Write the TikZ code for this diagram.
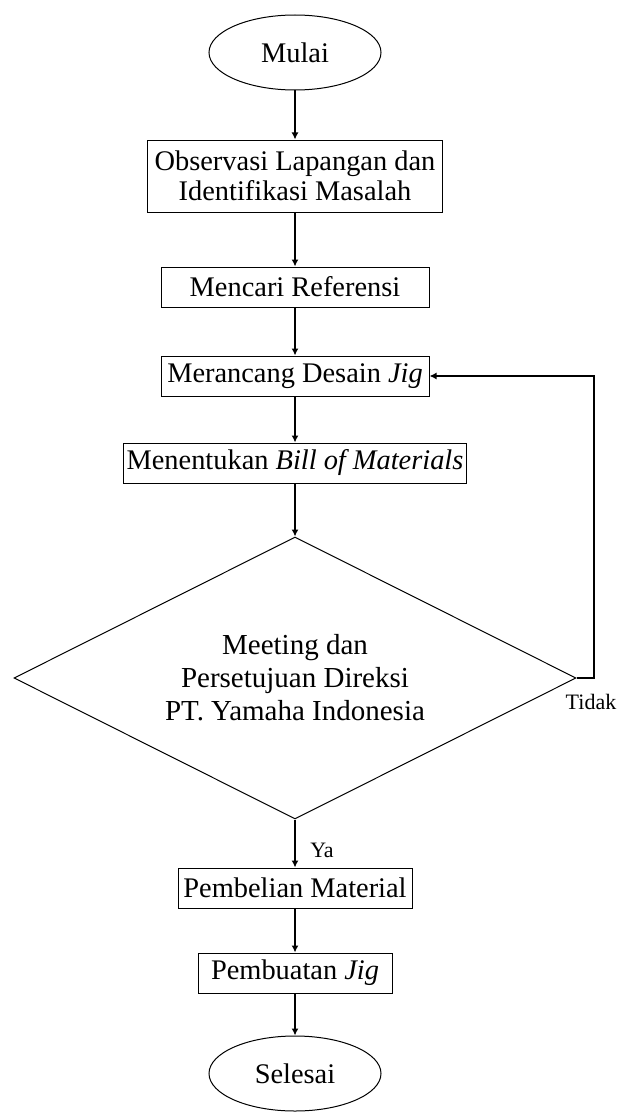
\documentclass[tikz,border=0pt]{standalone}
\usepackage{fontspec}
\setmainfont{Liberation Serif}
\usetikzlibrary{shapes.geometric,arrows.meta}

\begin{document}
\begin{tikzpicture}
  [x=0.5pt,y=-0.5pt,every node/.style={font=\fontsize{14.2}{15}\selectfont,inner sep=0pt,align=center},
   box/.style={draw,rectangle,line width=0.5pt,minimum height=20pt},
   term/.style={draw,ellipse,line width=0.5pt,minimum width=86pt,minimum height=37.5pt},
   decide/.style={draw,diamond,aspect=2,line width=0.5pt,minimum width=281pt,minimum height=141pt},
   arr/.style={line width=1pt,-{Latex[length=3.5pt,width=3.5pt]}},
   lbl/.style={font=\fontsize{11}{12}\selectfont}]
  \useasboundingbox (0,0) rectangle (620,1113);

  \node[term] (mulai) at (295,52.5) {Mulai};
  \node[box,minimum width=147.5pt,minimum height=36pt] (obs) at (295,176) {Observasi Lapangan dan\\Identifikasi Masalah};
  \node[box,minimum width=134pt] (ref) at (295,287) {Mencari Referensi};
  \node[box,minimum width=134pt] (desain) at (295,376) {Merancang Desain \textit{Jig}};
  \node[box,minimum width=171.5pt] (bom) at (295,463) {Menentukan \textit{Bill of Materials}};
  \node[decide,font=\fontsize{14.5}{16.5}\selectfont] (dec) at (295,678) {Meeting dan\\Persetujuan Direksi\\PT. Yamaha Indonesia};
  \node[box,minimum width=117pt] (beli) at (295,888) {Pembelian Material};
  \node[box,minimum width=97pt] (buat) at (295,973) {Pembuatan \textit{Jig}};
  \node[term] (selesai) at (295,1073.5) {Selesai};

  \node[lbl] (ya) at (322,850) {Ya};
  \node[lbl] (tidak) at (591,702) {Tidak};
  \coordinate (belok) at (594,678);

  \foreach \from/\to in {mulai/obs,obs/ref,ref/desain,desain/bom,bom/dec,dec/beli,beli/buat,buat/selesai}
    \draw[arr] (\from) -- (\to);

  \draw[arr] (dec.east) -- (belok) |- (desain.east);

\end{tikzpicture}
\end{document}
